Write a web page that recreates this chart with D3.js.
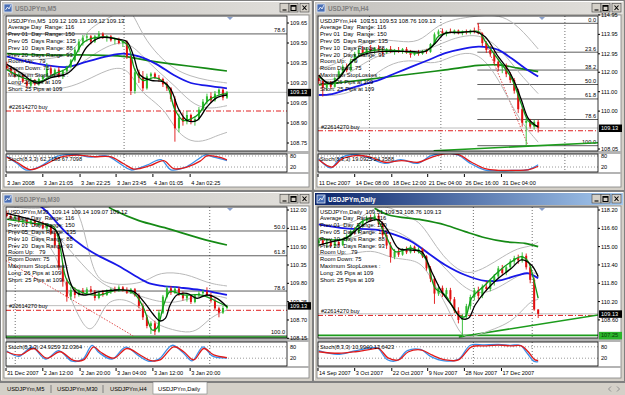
<!DOCTYPE html>
<html><head><meta charset="utf-8">
<script src="https://cdn.jsdelivr.net/npm/d3@7"></script>
<style>
body{margin:0;background:#d4d0c8}
text{font-family:"Liberation Sans",Arial,sans-serif;white-space:pre}
</style></head>
<body><svg id="chart" width="625" height="395"></svg>
<script>
// ---- data: candles are [open, high, low, close], lines are [bar, value] ----
const m5Candles = [
 [109.33,109.36,109.30,109.31],[109.31,109.33,109.27,109.28],[109.28,109.30,109.24,109.25],[109.25,109.28,109.22,109.26],
 [109.26,109.27,109.20,109.21],[109.21,109.24,109.16,109.18],[109.18,109.24,109.17,109.22],[109.22,109.23,109.18,109.19],
 [109.19,109.24,109.18,109.23],[109.23,109.26,109.20,109.25],[109.25,109.35,109.24,109.31],[109.31,109.33,109.26,109.27],
 [109.27,109.31,109.25,109.30],[109.30,109.32,109.24,109.25],[109.25,109.30,109.23,109.29],[109.29,109.33,109.27,109.32],
 [109.32,109.38,109.31,109.37],[109.37,109.47,109.36,109.45],[109.45,109.53,109.43,109.51],[109.51,109.56,109.48,109.54],
 [109.54,109.57,109.51,109.55],[109.55,109.56,109.49,109.51],[109.51,109.56,109.50,109.55],[109.55,109.59,109.53,109.57],
 [109.57,109.58,109.53,109.54],[109.54,109.56,109.51,109.55],[109.55,109.56,109.51,109.52],[109.52,109.54,109.49,109.53],
 [109.53,109.54,109.49,109.50],[109.50,109.52,109.47,109.51],[109.51,109.52,109.38,109.40],[109.40,109.41,109.11,109.14],
 [109.14,109.31,109.12,109.28],[109.28,109.30,109.20,109.24],[109.24,109.29,109.14,109.16],[109.16,109.27,109.15,109.25],
 [109.25,109.28,109.22,109.27],[109.27,109.28,109.23,109.24],[109.24,109.26,109.21,109.23],[109.23,109.24,109.17,109.19],
 [109.19,109.21,109.14,109.16],[109.16,109.17,109.06,109.08],[109.08,109.10,108.76,108.86],[108.86,108.97,108.83,108.94],
 [108.94,108.98,108.88,108.91],[108.91,108.99,108.89,108.96],[108.96,108.97,108.89,108.91],[108.91,108.95,108.88,108.93],
 [108.93,109.02,108.92,109.00],[109.00,109.08,108.99,109.06],[109.06,109.12,109.04,109.10],[109.10,109.13,109.05,109.07],
 [109.07,109.14,109.06,109.12],[109.12,109.16,109.10,109.15],[109.15,109.16,109.07,109.09],[109.09,109.14,109.08,109.13]
];
const m5Black = [[0,109.34],[3.3,109.28],[7.5,109.20],[11,109.24],[15,109.27],[17.5,109.34],[20,109.47],[23.3,109.54],[27.5,109.53],[30,109.51],[31.7,109.40],[33.3,109.26],[36,109.22],[39,109.21],[41,109.15],[43,109.00],[45,108.92],[47.5,108.92],[50,109.02],[52.5,109.09],[55,109.11]];
const m5Green = [[0,109.30],[4,109.24],[8,109.21],[12,109.27],[15,109.31],[17,109.40],[19,109.50],[22,109.54],[26,109.54],[30,109.49],[32,109.30],[34,109.22],[37,109.24],[40,109.18],[42,109.00],[44,108.92],[46,108.93],[48,108.97],[50,109.06],[53,109.11],[55,109.12]];
const m5Blue = [[0,109.40],[6.7,109.35],[15,109.32],[20,109.36],[25,109.40],[29,109.42],[33,109.40],[37.5,109.34],[41.7,109.26],[46,109.20],[50,109.18],[55,109.16]];
const m5Long = [[0,109.42],[10,109.41],[20,109.41],[29,109.40],[35,109.37],[42,109.34],[50,109.31],[55,109.29]];
const m5BandUp = [[0,109.40],[5,109.37],[10,109.38],[15,109.40],[18,109.50],[21,109.62],[25,109.68],[29,109.75],[31,109.76],[34,109.55],[38,109.40],[42,109.30],[46,109.25],[50,109.22],[55,109.20]];
const m5BandMid = [[0,109.30],[5,109.27],[10,109.25],[15,109.27],[20,109.38],[25,109.48],[30,109.52],[34,109.40],[38,109.28],[42,109.18],[46,109.05],[50,109.00],[55,109.03]];
const m5BandLow = [[0,109.20],[5,109.17],[10,109.15],[15,109.16],[20,109.22],[25,109.30],[30,109.33],[33,109.15],[36,109.08],[40,108.98],[42,108.85],[46,108.75],[50,108.77],[52,108.80],[55,108.83]];
const m5StochMain = [[0,78],[2.5,40],[5,3],[8.5,25],[12.5,78],[17,88],[21,74],[25,80],[28.5,35],[31,4],[35,30],[38.5,60],[41,5],[44.5,18],[47.5,58],[49.5,85],[52,72],[55,55]];
const m5StochSig = [[0,73],[2.5,46],[5.8,6],[9.2,29],[13.3,73],[17.5,85],[21.7,76],[25.8,76],[29.2,38],[31.7,9],[35.8,27],[39.2,55],[41.7,11],[45,20],[48.3,52],[50,80],[52.5,76],[55,59]];
const m5YTicks = [109.65,109.50,109.35,109.20,109.05,108.90,108.75];
const m5XTicks = [[-0.2,"3 Jan 2008"],[9,"3 Jan 21:05"],[18.3,"3 Jan 22:25"],[27.3,"3 Jan 23:45"],[36.5,"4 Jan 01:05"],[45.8,"4 Jan 02:25"]];
const m5Seps = [29.3];

const h4Candles = [
 [111.70,111.85,111.40,111.55],[111.55,111.60,110.75,111.20],[111.20,111.50,111.05,111.40],[111.40,111.55,111.15,111.25],
 [111.25,111.75,111.20,111.70],[111.70,112.15,111.65,112.05],[112.05,112.40,111.90,112.30],[112.30,112.45,112.00,112.10],
 [112.10,112.70,112.05,112.60],[112.60,113.05,112.50,112.95],[112.95,113.25,112.80,113.15],[113.15,113.35,112.85,112.95],
 [112.95,113.30,112.90,113.20],[113.20,113.40,113.00,113.10],[113.10,113.30,112.95,113.25],[113.25,113.40,113.05,113.10],
 [113.10,113.25,112.85,113.00],[113.00,113.25,112.95,113.20],[113.20,113.35,113.00,113.05],[113.05,113.20,112.90,113.15],
 [113.15,113.30,113.00,113.05],[113.05,113.25,112.95,113.20],[113.20,113.30,112.95,113.00],[113.00,113.15,112.75,112.90],
 [112.90,113.10,112.85,113.05],[113.05,113.15,112.85,112.95],[112.95,113.15,112.90,113.10],[113.10,113.20,112.95,113.05],
 [113.05,113.50,113.00,113.45],[113.45,114.05,113.40,113.95],[113.95,114.20,113.80,114.10],[114.10,114.25,113.90,114.00],
 [114.00,114.15,113.85,114.10],[114.10,114.25,114.00,114.05],[114.05,114.20,113.95,114.15],[114.15,114.20,113.95,114.00],
 [114.00,114.15,113.90,114.10],[114.10,114.20,113.95,114.05],[114.05,114.20,113.95,114.15],[114.15,114.30,114.00,114.10],
 [114.10,114.52,113.95,114.00],[114.00,114.05,113.35,113.50],[113.50,113.60,113.00,113.15],[113.15,113.35,112.80,112.95],
 [112.95,113.10,112.40,112.55],[112.55,112.70,112.05,112.25],[112.25,112.45,111.95,112.30],[112.30,112.45,111.75,111.90],
 [111.90,112.00,111.45,111.60],[111.60,111.70,110.90,111.05],[111.05,111.15,109.90,110.10],[110.10,110.25,109.20,109.40],
 [109.40,109.65,108.22,109.50],[109.50,109.60,109.10,109.20],[109.20,109.55,109.05,109.45],[109.45,109.55,108.90,109.13]
];
const h4Black = [[0,111.86],[2.5,111.43],[5,111.69],[7.5,112.38],[10,112.80],[12.5,112.98],[16.7,113.07],[23.3,113.07],[26.7,113.07],[29.2,113.49],[31.7,114.01],[35,114.04],[39.2,114.09],[41.7,113.83],[45,112.80],[47.5,112.12],[49.2,111.43],[50.8,110.57],[52.5,109.63],[54.2,109.29],[55,109.20]];
const h4Green = [[0,111.78],[3.3,111.40],[5.8,111.95],[8.3,112.55],[10.8,112.95],[15,113.15],[20,113.10],[25,113.00],[28.3,113.30],[30,113.85],[33,114.05],[38,114.08],[40,114.10],[41.7,113.60],[45,112.65],[48.3,111.70],[50.8,110.35],[52.5,109.50],[54.2,109.25],[55,109.20]];
const h4Blue = [[0,110.83],[3.3,110.88],[6.7,111.09],[10.8,111.35],[15,111.60],[19.2,111.95],[23.3,112.29],[27.5,112.63],[31.7,112.98],[36.7,113.23],[40,113.32],[42.5,113.28],[45,113.15],[48.3,112.72],[51.7,112.21],[55,111.78]];
const h4Long = [[0,111.35],[10.8,111.60],[23.3,111.91],[31.7,112.12],[40,112.35],[45,112.38],[50,112.21],[55,112.03]];
const h4BandUp = [[0,112.20],[5,112.40],[10,113.50],[15,113.70],[20,113.60],[25,113.50],[29,114.30],[33,114.70],[38,114.85],[42,114.95],[46,114.90],[50,114.40],[55,113.20]];
const h4BandMid = [[0,111.60],[5,111.60],[10,112.30],[15,112.90],[20,113.10],[25,113.05],[29,113.30],[33,113.70],[38,113.95],[42,113.80],[46,113.10],[50,112.00],[55,110.90]];
const h4BandLow = [[0,110.80],[5,110.80],[10,111.10],[15,112.10],[20,112.60],[25,112.60],[29,112.40],[33,112.80],[38,113.10],[42,112.60],[46,111.30],[50,109.60],[55,108.40]];
const h4StochMain = [[0,65],[3,15],[5.5,70],[9,88],[12.3,72],[16.5,40],[20.5,60],[24.8,40],[28,80],[31.5,95],[35,84],[38,40],[41.5,5],[45,0],[48.3,1],[52.5,6],[55,32]];
const h4StochSig = [[0,59],[3.3,20],[5.8,64],[9.2,82],[12.5,76],[16.7,46],[20.8,55],[25,46],[28.3,73],[31.7,91],[35,87],[38.3,46],[41.7,11],[45,2],[48.3,2],[52.5,4],[55,24]];
const h4YTicks = [114.95,113.95,112.95,112.00,111.00,110.00,108.05];
const h4XTicks = [[-0.2,"11 Dec 2007"],[9,"14 Dec 08:00"],[18.3,"18 Dec 12:00"],[27.3,"21 Dec 04:00"],[36.5,"26 Dec 16:00"],[45.8,"31 Dec 04:00"]];
const h4Seps = [12.7,30.6,61.7];

const m30Candles = [
 [111.90,111.98,111.78,111.82],[111.82,111.88,111.70,111.75],[111.75,111.85,111.68,111.80],[111.80,111.86,111.62,111.66],
 [111.66,111.75,111.58,111.70],[111.70,111.74,111.55,111.60],[111.60,111.72,111.56,111.68],[111.68,111.72,111.52,111.55],
 [111.55,111.66,111.50,111.62],[111.62,111.66,111.42,111.45],[111.45,111.58,111.38,111.52],[111.52,111.56,111.25,111.30],
 [111.30,111.36,110.85,110.95],[110.95,111.02,110.20,110.30],[110.30,110.40,109.70,109.85],[109.85,109.95,109.25,109.40],
 [109.40,109.70,109.30,109.60],[109.60,109.68,109.35,109.45],[109.45,109.62,109.40,109.58],[109.58,109.66,109.45,109.50],
 [109.50,109.68,109.46,109.62],[109.62,109.72,109.50,109.55],[109.55,109.60,109.28,109.36],[109.36,109.58,109.32,109.52],
 [109.52,109.60,109.40,109.45],[109.45,109.62,109.42,109.58],[109.58,109.66,109.48,109.62],[109.62,109.70,109.52,109.58],
 [109.58,109.74,109.54,109.68],[109.68,109.72,109.55,109.60],[109.60,109.68,109.48,109.52],[109.52,109.66,109.48,109.62],
 [109.62,109.66,109.40,109.44],[109.44,109.50,109.05,109.12],[109.12,109.20,108.70,108.78],[108.78,108.85,108.45,108.52],
 [108.52,108.66,108.28,108.60],[108.60,108.68,108.25,108.35],[108.35,109.00,108.32,108.92],[108.92,109.45,108.88,109.40],
 [109.40,109.72,109.35,109.65],[109.65,109.72,109.45,109.52],[109.52,109.70,109.48,109.64],[109.64,109.70,109.42,109.48],
 [109.48,109.56,109.28,109.35],[109.35,109.48,109.25,109.42],[109.42,109.46,109.18,109.24],[109.24,109.48,109.20,109.44],
 [109.44,109.56,109.38,109.50],[109.50,109.62,109.44,109.55],[109.55,109.68,109.40,109.45],[109.45,109.52,109.22,109.28],
 [109.28,109.35,108.98,109.05],[109.05,109.10,108.78,108.92],[108.92,109.12,108.88,109.06],[109.06,109.16,109.02,109.12]
];
const m30Black = [[0,111.90],[5,111.75],[10,111.55],[12.5,111.35],[14.2,110.65],[15.8,109.85],[17.1,109.55],[19.2,109.45],[23.3,109.55],[27.5,109.60],[31.7,109.55],[34.2,109.25],[36.7,108.85],[38.3,108.67],[39.6,108.75],[40.8,109.15],[42.5,109.45],[45,109.50],[47.5,109.35],[50,109.45],[52.5,109.35],[55,109.10]];
const m30Green = [[0,111.72],[6.7,111.60],[11.7,111.50],[13.3,110.90],[15,109.90],[18.3,109.55],[23.3,109.45],[27.5,109.60],[31.7,109.50],[34.2,109.05],[36.3,108.40],[37.5,108.45],[39.2,109.15],[40.8,109.55],[44.2,109.45],[48.3,109.45],[51.7,109.30],[55,109.10]];
const m30Blue = [[8,112.15],[10,111.95],[15,111.30],[19.2,110.90],[23.3,110.60],[27.5,110.35],[31.7,110.05],[35,109.83],[38.3,109.73],[43.3,109.67],[48.3,109.60],[51.7,109.53],[55,109.45]];
const m30Long = [[25.5,112.08],[26.7,112.00],[33,111.68],[40,111.45],[48.3,111.15],[55,110.95]];
const m30BandUp = [[0,112.10],[10,112.00],[15,112.30],[18,112.00],[20,111.00],[22,110.00],[25,109.78],[30,109.75],[35,109.85],[38,110.15],[45,110.10],[50,109.80],[55,109.72]];
const m30BandMid = [[0,111.75],[10,111.60],[15,110.90],[20,110.20],[25,109.65],[30,109.55],[35,109.35],[38,109.25],[42,109.20],[47,109.40],[52,109.45],[55,109.35]];
const m30BandLow = [[0,111.40],[10,111.20],[13,110.40],[16,109.30],[19,108.55],[21,108.35],[23,108.70],[25,109.30],[30,109.35],[34,109.00],[37,108.60],[40,108.45],[45,108.30],[48,108.40],[51,108.80],[55,109.00]];
const m30StochMain = [[0,58],[3,30],[6.3,78],[9.7,15],[13,60],[16.3,4],[19,15],[21.3,88],[23,50],[26.3,15],[29.7,78],[33,32],[35.5,4],[38,15],[41.3,88],[44,50],[46.3,6],[49,80],[51.3,32],[55,20]];
const m30StochSig = [[0,54],[3.3,37],[6.7,71],[10,20],[13.3,54],[16.7,8],[19.2,11],[21.7,80],[23.3,54],[26.7,20],[30,71],[33.3,37],[35.8,8],[38.3,11],[41.7,80],[44.2,54],[46.7,11],[49.2,71],[51.7,37],[55,23]];
const m30YTicks = [112.00,111.45,110.90,110.35,109.80,109.25,108.70,108.15];
const m30XTicks = [[-0.2,"31 Dec 2007"],[9,"2 Jan 12:00"],[18.3,"2 Jan 20:00"],[27.3,"3 Jan 04:00"],[36.5,"3 Jan 12:00"],[45.8,"3 Jan 20:00"]];
const m30Seps = [2.1,50.7];

const dCandles = [
 [115.30,115.70,115.00,115.55],[115.55,115.80,115.10,115.20],[115.20,115.60,114.90,115.45],[115.45,115.65,114.95,115.05],
 [115.05,115.50,114.90,115.40],[115.40,115.60,115.00,115.15],[115.15,115.70,115.05,115.60],[115.60,116.10,115.45,115.95],
 [115.95,116.50,115.80,116.35],[116.35,116.70,116.05,116.25],[116.25,116.90,116.15,116.80],[116.80,117.40,116.65,117.25],
 [117.25,117.70,117.05,117.50],[117.50,117.80,117.20,117.35],[117.35,117.90,117.25,117.70],[117.70,117.85,116.90,117.05],
 [117.05,117.20,115.80,116.00],[116.00,116.30,114.80,115.10],[115.10,115.40,113.60,114.10],[114.10,114.80,113.90,114.55],
 [114.55,114.90,114.10,114.30],[114.30,114.85,114.20,114.70],[114.70,115.00,114.35,114.50],[114.50,115.15,114.40,115.00],
 [115.00,115.10,114.45,114.60],[114.60,114.95,114.40,114.80],[114.80,114.90,114.00,114.15],[114.15,114.25,112.90,113.10],
 [113.10,113.30,111.90,112.20],[112.20,112.40,110.00,110.90],[110.90,111.70,110.70,111.40],[111.40,111.60,110.60,110.85],
 [110.85,111.40,110.55,111.20],[111.20,111.40,110.20,110.40],[110.40,110.60,109.20,109.40],[109.40,109.70,108.30,108.60],
 [108.60,109.10,107.10,108.90],[108.90,110.00,108.70,109.80],[109.80,110.80,109.50,110.60],[110.60,111.40,110.30,111.20],
 [111.20,111.50,110.40,110.70],[110.70,111.70,110.50,111.50],[111.50,112.00,111.10,111.30],[111.30,112.20,111.10,112.00],
 [112.00,112.60,111.60,112.40],[112.40,113.30,112.20,113.10],[113.10,113.40,112.50,112.70],[112.70,113.30,112.50,113.20],
 [113.20,113.90,113.00,113.70],[113.70,114.20,113.40,114.00],[114.00,114.30,113.50,113.80],[113.80,114.50,113.60,114.20],
 [114.20,114.40,113.00,113.20],[113.20,113.40,111.80,112.10],[112.10,112.30,109.40,109.51],[109.51,109.53,108.76,109.13]
];
const dBlack = [[0,115.14],[3.3,115.43],[6.7,115.72],[10,116.60],[12.5,117.18],[15,117.33],[17.5,116.31],[20,114.85],[23.3,114.70],[25.8,114.56],[28.3,112.80],[30.8,111.07],[33.3,109.90],[35.8,108.74],[37.5,108.74],[39.2,109.90],[41.7,111.07],[45,112.23],[48.3,113.11],[50.8,113.84],[53.3,113.40],[55,112.38]];
const dGreen = [[0,115.72],[6.7,115.72],[10.8,117.18],[14.2,117.47],[16.7,116.02],[19.2,114.56],[23.3,114.85],[26.7,113.98],[29.2,111.36],[31.7,110.78],[35,109.03],[36.7,108.88],[38.3,110.49],[41.7,111.65],[45,112.81],[48.3,113.69],[50.8,114.12],[52.5,113.69],[53.8,112.23],[55,110.49]];
const dBlue = [[0,116.95],[6.7,116.60],[15,116.45],[19.2,116.02],[23.3,115.43],[27.5,114.41],[31.7,113.40],[36.7,112.52],[41.7,112.00],[45.8,112.08],[50,112.52],[52.5,112.67],[55,112.23]];
const dLong = [[14,118.35],[17.5,117.76],[25.8,117.33],[31.7,116.89],[36.7,116.31],[41.7,115.78],[46.7,115.43],[51.7,115.29],[55,115.00]];
const dBandUp = [[0,116.9],[5,116.7],[10,117.3],[14,118.5],[18,118.5],[22,117.6],[25,117.3],[28,115.8],[31,114.2],[35,112.9],[38,112.6],[42,113.2],[46,114.1],[50,114.9],[53,115.0],[55,115.4]];
const dBandMid = [[0,115.6],[5,115.5],[10,115.9],[14,116.6],[18,116.6],[22,115.9],[26,114.9],[30,113.8],[34,112.2],[38,111.0],[42,110.9],[46,111.6],[50,112.5],[53,112.8],[55,112.6]];
const dBandLow = [[0,114.3],[5,114.2],[10,114.5],[14,114.7],[18,114.0],[22,113.9],[26,113.6],[29,111.7],[32,109.9],[35,107.6],[37,107.0],[40,107.3],[44,107.8],[48,108.4],[51,109.4],[53,110.2],[55,110.4]];
const dStochMain = [[0,60],[4.7,40],[9,58],[13,74],[14.7,75],[17.2,12],[19.7,8],[22.2,60],[25.5,66],[28,30],[31.5,6],[35,14],[38,88],[41.5,90],[45,92],[48,88],[50.5,88],[52.3,45],[54,3],[55,2]];
const dStochSig = [[0,54],[5,46],[9.2,54],[13.3,68],[15,71],[17.5,20],[20,11],[22.5,54],[25.8,63],[28.3,37],[31.7,11],[35,11],[38.3,80],[41.7,85],[45,89],[48.3,85],[50.8,85],[52.5,54],[54.2,11],[55,8]];
const dYTicks = [118.20,116.60,115.00,113.40,111.80,110.20,108.60];
const dXTicks = [[-0.2,"14 Sep 2007"],[9,"3 Oct 2007"],[18.3,"22 Oct 2007"],[27.3,"9 Nov 2007"],[36.5,"28 Nov 2007"],[45.8,"17 Dec 2007"]];
const dSeps = [38.75,53.5];

const infoLines = ["Average Day  Range: 116","Prev 01  Day  Range: 150","Prev 05  Days Range: 135","Prev 10  Days Range: 88",
  "Prev 20  Days Range: 93","Room Up:   79","Room Down: 75","Maximum StopLosses :","Long: 26 Pips at 109","Short: 25 Pips at 109"];
const fibHigh = 114.52, fibLow = 108.22;
const fibLevels = [0, 23.6, 38.2, 50, 61.8, 78.6, 100];
const bidPrice = 109.13, orderPrice = 108.99;
const tabs = ["USDJPYm,M5", "USDJPYm,M30", "USDJPYm,H4", "USDJPYm,Daily"];

// ---- layout ----
const svg = d3.select("#chart");
const defs = svg.append("defs");
const C = {bull: "#2dbb2d", bear: "#e01010", black: "#000", fast: "#109a18", blue: "#1818e8", slow: "#158a15", band: "#b9b9b9"};

function grad(id, a, b) {
  const lg = defs.append("linearGradient").attr("id", id);
  lg.append("stop").attr("offset", 0).attr("stop-color", a);
  lg.append("stop").attr("offset", 1).attr("stop-color", b);
}
grad("gAct", "#0a246a", "#a6caf0");
grad("gIna", "#c4c2be", "#e2e0dc");

const panes = [
  {k: "m5", win: {x: 0, y: 0, w: 313, h: 191}, title: "USDJPYm,M5", active: false,
   px: [6, 287], py: [16, 151], sy: [154, 172], sRng: [170.7, 152.3], labY: 185,
   yDom: [109.65, 108.75], yRng: [23, 143], candles: m5Candles, black: m5Black, fast: m5Green, blue: m5Blue, slow: m5Long,
   bands: [m5BandUp, m5BandMid, m5BandLow], st: [m5StochMain, m5StochSig], yt: m5YTicks, xt: m5XTicks, seps: m5Seps,
   head: "USDJPYm,M5  109.12 109.13 109.12 109.13", stLab: "Stoch(8,3,3) 62.7188 67.7098", fibFrom: -80, fibDiag: null, trend: []},
  {k: "h4", win: {x: 313, y: 0, w: 312, h: 191}, title: "USDJPYm,H4", active: false,
   px: [318, 598], py: [16, 151], sy: [154, 172], sRng: [170.7, 152.3], labY: 185,
   yDom: [114.52, 108.22], yRng: [23.3, 145.7], candles: h4Candles, black: h4Black, fast: h4Green, blue: h4Blue, slow: h4Long,
   bands: [h4BandUp, h4BandMid, h4BandLow], st: [h4StochMain, h4StochSig], yt: h4YTicks, xt: h4XTicks, seps: h4Seps,
   head: "USDJPYm,H4  109.51 109.53 108.76 109.13", stLab: "Stoch(8,3,3) 19.0925 24.3588", fibFrom: 39.75,
   fibDiag: [[39.75, fibHigh], [52.5, fibLow]], trend: [[[28.8, 107.96], [70, 108.37]]]},
  {k: "m30", win: {x: 0, y: 191, w: 313, h: 191}, title: "USDJPYm,M30", active: false,
   px: [6, 287], py: [207, 338], sy: [342, 366], sRng: [362, 343], labY: 374.5,
   yDom: [112.00, 108.15], yRng: [210, 338.3], candles: m30Candles, black: m30Black, fast: m30Green, blue: m30Blue, slow: m30Long,
   bands: [m30BandUp, m30BandMid, m30BandLow], st: [m30StochMain, m30StochSig], yt: m30YTicks, xt: m30XTicks, seps: m30Seps,
   head: "USDJPYm,M30  109.14 109.14 109.07 109.12", stLab: "Stoch(8,3,3) 24.9259 32.0364", fibFrom: -80,
   fibDiag: [[-57, fibHigh], [31.6, fibLow]], trend: [[[-5, 108.19], [75, 108.19]]]},
  {k: "d1", win: {x: 313, y: 191, w: 312, h: 191}, title: "USDJPYm,Daily", active: true,
   px: [318, 598], py: [207, 338], sy: [342, 366], sRng: [362, 343], labY: 374.5,
   yDom: [118.20, 108.60], yRng: [210, 319.9], candles: dCandles, black: dBlack, fast: dGreen, blue: dBlue, slow: dLong,
   bands: [dBandUp, dBandMid, dBandLow], st: [dStochMain, dStochSig], yt: dYTicks, xt: dXTicks, seps: dSeps,
   head: "USDJPYm,Daily  109.51 109.53 108.76 109.13", stLab: "Stoch(8,3,3) 10.9940 13.6423", fibFrom: null,
   fibDiag: null, trend: [[[-5, 107.25], [75, 107.25]], [[35.1, 107.11], [70, 109.03]]], support: 107.25}
];

function drawWindow(P) {
  const {x, y, w, h} = P.win;
  const g = svg.append("g");
  g.append("rect").attr("x", x + 0.5).attr("y", y + 0.5).attr("width", w - 1).attr("height", h - 1)
    .attr("fill", "#d4d0c8").attr("stroke", "#808080");
  g.append("path").attr("d", `M${x + 1.5},${y + h - 2}V${y + 1.5}H${x + w - 2}`).attr("stroke", "#fff").attr("fill", "none");
  g.append("rect").attr("x", x + 2).attr("y", y + 2).attr("width", w - 4).attr("height", 12)
    .attr("fill", P.active ? "url(#gAct)" : "url(#gIna)");
  g.append("rect").attr("x", x + 4).attr("y", y + 4).attr("width", 8).attr("height", 8).attr("fill", "#4a6fb5").attr("stroke", "#dfe8f7").attr("stroke-width", 0.8);
  g.append("path").attr("d", `M${x + 5.5},${y + 10}l2,-3l1.5,2l2,-4`).attr("stroke", "#fff").attr("fill", "none").attr("stroke-width", 0.8);
  g.append("text").attr("x", x + 15).attr("y", y + 11).attr("font-size", 6.3).attr("font-weight", "bold")
    .attr("fill", P.active ? "#fff" : "#7e7e7e").text(P.title);
  // caption buttons: minimise, maximise, close (drawn as glyph paths)
  const glyphs = [
    bx => `M${bx + 2.5},${y + 10}h4`,
    bx => `M${bx + 2},${y + 5.5}h5v5h-5zM${bx + 2},${y + 6.3}h5`,
    bx => `M${bx + 2.5},${y + 5.5}l4,4.5M${bx + 6.5},${y + 5.5}l-4,4.5`
  ];
  [w - 33, w - 24, w - 13].forEach((dx, i) => {
    const bx = x + dx;
    g.append("rect").attr("x", bx).attr("y", y + 3.5).attr("width", 9).attr("height", 8.5)
      .attr("fill", "#d4d0c8").attr("stroke", "#404040").attr("stroke-width", 0.6);
    g.append("path").attr("d", glyphs[i](bx)).attr("stroke", "#000").attr("stroke-width", 1.1).attr("fill", "none");
  });
  g.append("rect").attr("x", x + 4).attr("y", y + 15).attr("width", w - 8).attr("height", h - 19)
    .attr("fill", "#fff").attr("stroke", "#808080").attr("stroke-width", 0.8);
}

function linePath(x, y, curve) {
  return d3.line().x(d => x(d[0])).y(d => y(d[1])).curve(curve || d3.curveCatmullRom.alpha(0.5));
}

function drawPane(P) {
  const [x0, x1] = P.px, [y0, y1] = P.py, [s0, s1] = P.sy;
  const right = P.win.x + P.win.w - 4;
  const x = d3.scaleLinear().domain([-0.2, 70]).range([x0, x1]);
  const y = d3.scaleLinear().domain(P.yDom).range(P.yRng);
  const ys = d3.scaleLinear().domain([0, 100]).range(P.sRng);
  defs.append("clipPath").attr("id", "m" + P.k).append("rect").attr("x", x0).attr("y", y0).attr("width", x1 - x0).attr("height", y1 - y0);
  defs.append("clipPath").attr("id", "s" + P.k).append("rect").attr("x", x0).attr("y", s0).attr("width", x1 - x0).attr("height", s1 - s0);
  const g = svg.append("g");

  g.append("rect").attr("x", x0).attr("y", y1).attr("width", right - x0).attr("height", s0 - y1).attr("fill", "#b4b4b4");
  g.append("rect").attr("x", x0).attr("y", s1).attr("width", right - x0).attr("height", 2).attr("fill", "#b4b4b4");

  const m = g.append("g").attr("clip-path", `url(#m${P.k})`);
  const sg = g.append("g").attr("clip-path", `url(#s${P.k})`);

  // period separators
  P.seps.forEach(i => {
    [m, sg].forEach(t => t.append("line").attr("x1", x(i)).attr("x2", x(i)).attr("y1", y0).attr("y2", s1)
      .attr("stroke", "#707070").attr("stroke-dasharray", "1,2"));
  });

  // fibonacci levels (only those that fall inside this pane)
  if (P.fibFrom !== null) {
    const fy = d => y(fibHigh - d / 100 * (fibHigh - fibLow));
    const vis = fibLevels.filter(d => fy(d) > y0 + 4 && fy(d) < y1);
    m.selectAll(".fib").data(vis).join("line")
      .attr("x1", x(P.fibFrom)).attr("x2", x1).attr("y1", fy).attr("y2", fy)
      .attr("stroke", "#333").attr("stroke-width", 0.8);
    m.selectAll(".fibt").data(vis).join("text")
      .attr("x", x1 - 2).attr("y", d => fy(d) - 1.5)
      .attr("text-anchor", "end").attr("font-size", 5.6).text(d => d.toFixed(1));
  }
  if (P.fibDiag) m.append("path").attr("d", linePath(x, y, d3.curveLinear)(P.fibDiag))
    .attr("stroke", "#e05050").attr("stroke-dasharray", "1.5,1.5").attr("fill", "none");

  // bid and order lines
  m.append("line").attr("x1", x0).attr("x2", x1).attr("y1", y(bidPrice)).attr("y2", y(bidPrice)).attr("stroke", "#bdbdbd");
  m.append("line").attr("x1", x0).attr("x2", x1).attr("y1", y(orderPrice)).attr("y2", y(orderPrice))
    .attr("stroke", "#e02020").attr("stroke-dasharray", "5,2,1,2");
  m.append("text").attr("x", x0 + 3).attr("y", y(orderPrice) - 2).attr("font-size", 5.6).text("#22614270 buy");

  // trend lines
  P.trend.forEach(t => m.append("path").attr("d", linePath(x, y, d3.curveLinear)(t))
    .attr("stroke", "#1c9c1c").attr("stroke-width", 1.6).attr("fill", "none"));

  // bollinger bands and slow averages
  P.bands.forEach(b => m.append("path").attr("d", linePath(x, y, d3.curveBasis)(b)).attr("stroke", C.band).attr("fill", "none"));
  m.append("path").attr("d", linePath(x, y)(P.slow)).attr("stroke", C.slow).attr("stroke-width", 1.7).attr("fill", "none");
  m.append("path").attr("d", linePath(x, y)(P.blue)).attr("stroke", C.blue).attr("stroke-width", 1.8).attr("fill", "none");

  // candles
  const cg = m.selectAll(".c").data(P.candles).join("g");
  cg.append("line").attr("x1", (d, i) => x(i)).attr("x2", (d, i) => x(i))
    .attr("y1", d => y(d[1])).attr("y2", d => y(d[2]))
    .attr("stroke", d => d[3] >= d[0] ? C.bull : C.bear).attr("stroke-width", 0.9);
  cg.append("rect").attr("x", (d, i) => x(i) - 1).attr("width", 2)
    .attr("y", d => y(Math.max(d[0], d[3]))).attr("height", d => Math.max(0.8, Math.abs(y(d[0]) - y(d[3]))))
    .attr("fill", d => d[3] >= d[0] ? C.bull : C.bear);

  m.append("path").attr("d", linePath(x, y)(P.fast)).attr("stroke", C.fast).attr("stroke-width", 1.3).attr("fill", "none");
  m.append("path").attr("d", linePath(x, y)(P.black)).attr("stroke", C.black).attr("stroke-width", 1.3).attr("fill", "none");

  // info text
  m.append("text").attr("x", x0 + 2).attr("y", y0 + 6.5).attr("font-size", 5.8).text(P.head);
  m.selectAll(".info").data(infoLines).join("text")
    .attr("x", x0 + 2).attr("y", (d, i) => y0 + 13.3 + i * 6.8).attr("font-size", 5.8).text(d => d);
  g.append("path").attr("d", `M${x0 + 221},${y0 + 1}h6l-3,3z`).attr("fill", "#8aa0cc");

  // stochastic
  [80, 20].forEach(v => sg.append("line").attr("x1", x0).attr("x2", x1).attr("y1", ys(v)).attr("y2", ys(v))
    .attr("stroke", "#9a9a9a").attr("stroke-dasharray", "1,2"));
  sg.append("path").attr("d", linePath(x, ys)(P.st[0])).attr("stroke", "#3b8fe8").attr("stroke-width", 1.3).attr("fill", "none");
  sg.append("path").attr("d", linePath(x, ys)(P.st[1])).attr("stroke", "#e01a1a").attr("stroke-width", 1.3).attr("fill", "none");
  sg.append("text").attr("x", x0 + 2).attr("y", s0 + 6.5).attr("font-size", 5.6).text(P.stLab);

  // frames
  g.append("rect").attr("x", x0).attr("y", y0).attr("width", x1 - x0).attr("height", y1 - y0).attr("fill", "none").attr("stroke", "#000").attr("stroke-width", 0.8);
  g.append("rect").attr("x", x0).attr("y", s0).attr("width", x1 - x0).attr("height", s1 - s0).attr("fill", "none").attr("stroke", "#000").attr("stroke-width", 0.8);

  // price axis
  const ya = g.append("g");
  ya.selectAll("line").data(P.yt).join("line").attr("x1", x1).attr("x2", x1 + 2).attr("y1", d => y(d)).attr("y2", d => y(d)).attr("stroke", "#000");
  ya.selectAll("text").data(P.yt).join("text").attr("x", x1 + 3).attr("y", d => y(d) + 2).attr("font-size", 5.6).text(d => d.toFixed(2));
  [80, 20].forEach(v => ya.append("text").attr("x", x1 + 3).attr("y", ys(v) + 2).attr("font-size", 5.6).text(v));
  const box = (p, bg, fg) => {
    ya.append("rect").attr("x", x1 + 1).attr("y", y(p) - 3.5).attr("width", 23).attr("height", 7.5).attr("fill", bg);
    ya.append("text").attr("x", x1 + 3).attr("y", y(p) + 2).attr("font-size", 5.6).attr("fill", fg).text(p.toFixed(2));
  };
  box(bidPrice, "#000", "#fff");
  if (P.support) box(P.support, "#2bb52b", "#0a3a0a");

  // time axis
  const xa = g.append("g");
  xa.selectAll("line").data(P.xt).join("line").attr("x1", d => x(d[0])).attr("x2", d => x(d[0]))
    .attr("y1", s1 + 2).attr("y2", s1 + 5).attr("stroke", "#000");
  xa.selectAll("text").data(P.xt).join("text").attr("x", d => x(d[0]) + 1).attr("y", P.labY).attr("font-size", 5.6).text(d => d[1]);
}

panes.forEach(drawWindow);
panes.forEach(drawPane);

// tab bar
const tb = svg.append("g");
tb.append("rect").attr("x", 0).attr("y", 382).attr("width", 625).attr("height", 13).attr("fill", "#d4d0c8");
tb.append("line").attr("x1", 0).attr("x2", 625).attr("y1", 382.5).attr("y2", 382.5).attr("stroke", "#808080");
const tabX = [7, 57, 110, 158];
tb.append("rect").attr("x", 153).attr("y", 382).attr("width", 54).attr("height", 12).attr("fill", "#fff").attr("stroke", "#808080").attr("stroke-width", 0.6);
tb.selectAll(".tab").data(tabs).join("text").attr("x", (d, i) => tabX[i]).attr("y", 391).attr("font-size", 5.8).text(d => d);
[51, 103].forEach(sx => tb.append("line").attr("x1", sx).attr("x2", sx).attr("y1", 385).attr("y2", 393).attr("stroke", "#808080"));
tb.append("path").attr("d", "M611,386.5l-2.5,2.5l2.5,2.5M617,386.5l2.5,2.5l-2.5,2.5").attr("stroke", "#909090").attr("fill", "none");
</script></body></html>
